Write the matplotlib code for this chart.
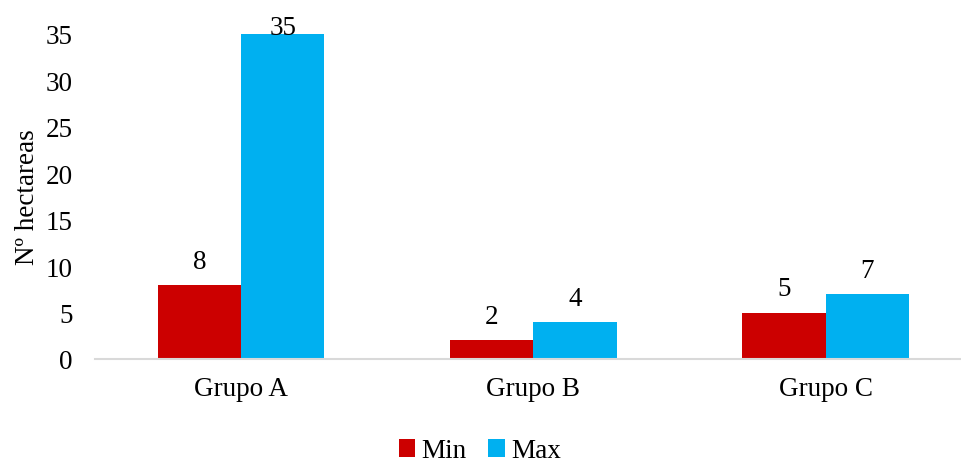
import matplotlib.pyplot as plt
import numpy as np

grupos = ["Grupo A", "Grupo B", "Grupo C"]
min_vals = [8, 2, 5]
max_vals = [35, 4, 7]

plt.rcParams['font.family'] = ['Liberation Serif', 'DejaVu Serif']
fs = 19.5

fig = plt.figure(figsize=(9.61, 4.64), dpi=100)
ax = fig.add_axes([95 / 961, 104 / 464, 865 / 961, 325 / 464])

x = np.arange(len(grupos))
w = 0.285
b1 = ax.bar(x - w / 2, min_vals, w, color="#CC0000", label="Min")
b2 = ax.bar(x + w / 2, max_vals, w, color="#00B0F0", label="Max")

ytop = 35
for bars in (b1, b2):
    for rect in bars:
        h = rect.get_height()
        # label at the top of the plot is pushed down onto the bar, like Excel
        off = 8 if h < ytop else -4
        ax.annotate(f"{h:g}", (rect.get_x() + rect.get_width() / 2, h),
                    xytext=(0, off), textcoords="offset points",
                    ha="center", va="bottom", fontsize=fs, clip_on=False)

ax.set_ylim(0, ytop)
ax.set_xlim(-0.5, 2.46)
ax.set_yticks(range(0, 36, 5))
ax.set_xticks(x)
ax.set_xticklabels(grupos)
ax.tick_params(axis="y", length=0, pad=16, labelsize=fs)
ax.tick_params(axis="x", length=0, pad=12, labelsize=fs)

for s in ("top", "right", "left"):
    ax.spines[s].set_visible(False)
ax.spines["bottom"].set_color("#D9D9D9")
ax.spines["bottom"].set_linewidth(1.5)

ax.set_ylabel("Nº hectareas", fontsize=fs, labelpad=4)

ax.legend(loc="center", bbox_to_anchor=(480 / 961, 1 - 452 / 464),
          bbox_transform=fig.transFigure, ncol=2, frameon=False,
          fontsize=fs, handlelength=0.6, handleheight=0.6,
          handletextpad=0.25, columnspacing=0.8)

fig.savefig("out.png", dpi=100)
